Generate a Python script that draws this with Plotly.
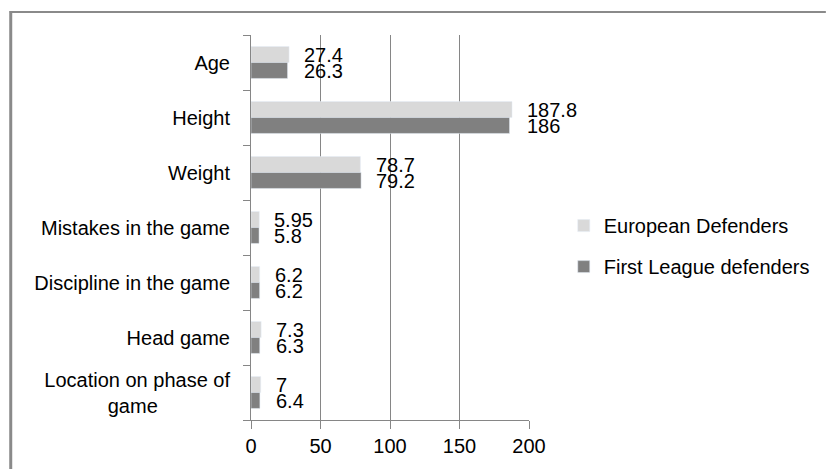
import plotly.graph_objects as go

categories = ["Age", "Height", "Weight", "Mistakes in the game",
              "Discipline in the game", "Head game", "Location on phase of game"]
tick_labels = ["Age", "Height", "Weight", "Mistakes in the game",
               "Discipline in the game", "Head game",
               "Location on phase of<br>game" + "\u00a0" * 13]
european = [27.4, 187.8, 78.7, 5.95, 6.2, 7.3, 7]
first_league = [26.3, 186, 79.2, 5.8, 6.2, 6.3, 6.4]
european_text = ["27.4", "187.8", "78.7", "5.95", "6.2", "7.3", "7"]
first_league_text = ["26.3", "186", "79.2", "5.8", "6.2", "6.3", "6.4"]

FONT = "Liberation Sans"
W, H = 827, 469
L, R, T, B = 251, 296, 35, 47
pw, ph = W - L - R, H - T - B

fig = go.Figure()
fig.add_trace(go.Bar(y=categories, x=european, orientation="h",
                     name="European Defenders", marker_color="#d9d9d9",
                     legendgroup="a"))
fig.add_trace(go.Bar(y=categories, x=first_league, orientation="h",
                     name="First League defenders", marker_color="#808080",
                     legendgroup="b"))

annotations = []
for c, e, f, et, ft in zip(categories, european, first_league, european_text, first_league_text):
    m = max(e, f)
    annotations.append(dict(x=m, y=c, xref="x", yref="y", text=et, showarrow=False,
                            xanchor="left", yanchor="middle", xshift=13, yshift=8,
                            font=dict(family=FONT, size=20, color="#000")))
    annotations.append(dict(x=m, y=c, xref="x", yref="y", text=ft, showarrow=False,
                            xanchor="left", yanchor="middle", xshift=13, yshift=-8,
                            font=dict(family=FONT, size=20, color="#000")))

def px2x(p):
    return (p - L) / pw

def py2y(p):
    return (H - B - p) / ph

shapes = [
    dict(type="line", xref="paper", yref="paper", x0=px2x(8), x1=px2x(830),
         y0=py2y(12), y1=py2y(12), line=dict(color="#8a8a8a", width=2)),
    dict(type="line", xref="paper", yref="paper", x0=px2x(9), x1=px2x(9),
         y0=py2y(11), y1=py2y(472), line=dict(color="#8a8a8a", width=3)),
]

fig.update_layout(
    width=W, height=H,
    margin=dict(l=L, r=R, t=T, b=B, pad=0),
    paper_bgcolor="white", plot_bgcolor="white",
    barmode="group", bargap=0.42, bargroupgap=0,
    font=dict(family=FONT, size=20, color="#000"),
    showlegend=True,
    legend=dict(x=px2x(566), y=py2y(207), xref="paper", yref="paper",
                xanchor="left", yanchor="top", tracegroupgap=12,
                font=dict(family=FONT, size=20, color="#000"),
                bgcolor="rgba(0,0,0,0)"),
    annotations=annotations,
    shapes=shapes,
    xaxis=dict(range=[0, 200], dtick=50, tick0=0, showgrid=True,
               gridcolor="#868686", gridwidth=1, showline=True,
               linecolor="#868686", linewidth=1, ticks="outside", ticklen=8,
               tickcolor="#868686", zeroline=False,
               tickfont=dict(family=FONT, size=20, color="#000")),
    yaxis=dict(categoryorder="array", categoryarray=categories,
               tickvals=categories, ticktext=tick_labels,
               autorange="reversed", showgrid=False, showline=True,
               linecolor="#868686", linewidth=1, ticks="outside", ticklen=7,
               tickcolor="#868686", tickson="boundaries",
               ticklabelstandoff=16,
               tickfont=dict(family=FONT, size=20, color="#000")),
)

fig.write_html("out.html")
